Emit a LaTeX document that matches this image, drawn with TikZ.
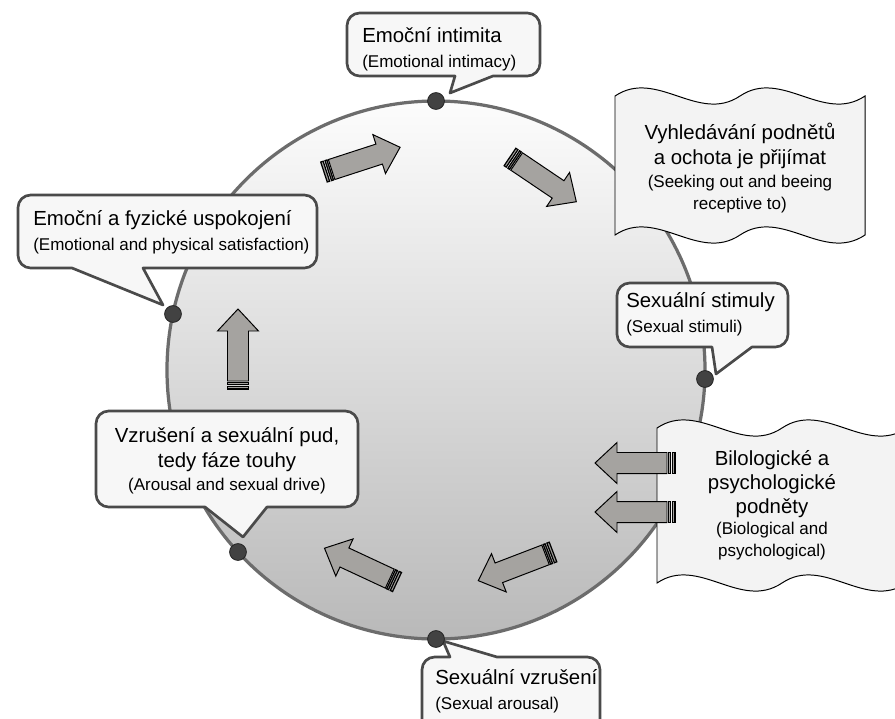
\documentclass[tikz,border=0pt]{standalone}
\usepackage{fontspec}
\setmainfont{Liberation Sans}

\definecolor{rimgray}{HTML}{6C6C6C}
\definecolor{boxgray}{HTML}{4A4A4A}
\definecolor{boxfill}{HTML}{F7F7F7}
\definecolor{wavefill}{HTML}{F3F3F3}
\definecolor{arrowfill}{HTML}{A5A3A0}
\definecolor{dotfill}{HTML}{424242}

\newcommand{\czline}{\fontsize{14.5}{17.7}\selectfont}
\newcommand{\enline}{\fontsize{12.1}{15.4}\selectfont}

% striped block arrow: #1 tail point, #2 direction
\newcommand{\stripedarrow}[2]{%
  \begin{scope}[shift={#1}, rotate=#2]
    \filldraw[arrowbody] (8,-10.5) -- (58,-10.5) -- (58,-20.5) -- (80,0)
      -- (58,20.5) -- (58,10.5) -- (8,10.5) -- cycle;
    \filldraw[arrowbody, line width=0.9pt] (0,-10.5) rectangle (2.5,10.5);
    \filldraw[arrowbody, line width=0.9pt] (4.5,-10.5) rectangle (6.5,10.5);
  \end{scope}}

\tikzset{
  disc/.style={draw=rimgray, line width=2.3pt, top color=white!98!gray,
    middle color=white!88!gray!90!magenta, bottom color=gray!55},
  callout/.style={draw=boxgray, fill=boxfill, line width=1.9pt, line join=round},
  wavebox/.style={draw=black, fill=wavefill, line width=0.7pt},
  arrowbody/.style={draw=black, fill=arrowfill, line width=0.7pt, line join=miter},
  dot/.style={circle, draw=black!85, fill=dotfill, line width=0.6pt,
    minimum size=0.42cm, inner sep=0pt},
  txt/.style={inner sep=0pt, font=\czline},
}

\begin{document}
\begin{tikzpicture}[x=0.025cm, y=-0.025cm]
  \clip (0,0) rectangle (895,718);

  % cycle
  \draw[disc] (436,370) circle [radius=269];

  % callouts
  \draw[callout] (440,13) [rounded corners=9] -- (540,13) -- (540,76)
    [sharp corners] -- (493,76) -- (450,93) -- (455,76)
    [rounded corners=9] -- (347,76) -- (347,13) -- cycle;
  \draw[callout] (160,195) [rounded corners=9] -- (317,195) -- (317,268)
    [sharp corners] -- (143,268) -- (163,305) -- (72,268)
    [rounded corners=9] -- (18,268) -- (18,195) -- cycle;
  \draw[callout] (700,283) [rounded corners=9] -- (788,283) -- (788,347)
    [sharp corners] -- (752,347) -- (716,374) -- (712,347)
    [rounded corners=9] -- (617,347) -- (617,283) -- cycle;
  \draw[callout] (230,411) [rounded corners=9] -- (358,411) -- (358,507)
    [sharp corners] -- (267,507) -- (243,537) -- (205,507)
    [rounded corners=9] -- (96,507) -- (96,411) -- cycle;
  \draw[callout] (600,700) [rounded corners=9] -- (600,740) -- (422,740)
    -- (422,657) [sharp corners] -- (450,657) -- (443,641) -- (497,657)
    [rounded corners=9] -- (600,657) -- cycle;

  % wave boxes
  \draw[wavebox] (615,96) .. controls (656.7,68) and (698.3,124) .. (740,96)
    .. controls (781.7,68) and (823.3,124) .. (865,96) -- (865,235)
    .. controls (823.3,263) and (781.7,207) .. (740,235)
    .. controls (698.3,263) and (656.7,207) .. (615,235) -- cycle;
  \draw[wavebox] (657,428) .. controls (698.7,400) and (740.3,456) .. (782,428)
    .. controls (823.7,400) and (865.3,456) .. (907,428) -- (907,583)
    .. controls (865.3,611) and (823.7,555) .. (782,583)
    .. controls (740.3,611) and (698.7,555) .. (657,583) -- cycle;

  % arrows round the cycle
  \stripedarrow{(324,172)}{18}
  \stripedarrow{(510,157)}{-34}
  \stripedarrow{(553,552)}{201}
  \stripedarrow{(397,582)}{155}
  \stripedarrow{(238,389)}{90}
  \stripedarrow{(675,463)}{180}
  \stripedarrow{(675,512)}{180}

  % points on the rim
  \node[dot] (ptop) at (436,101) {};
  \node[dot] (pright) at (705,379) {};
  \node[dot] (pbottom) at (436,639) {};
  \node[dot] (plowleft) at (238,552) {};
  \node[dot] (pleft) at (173,314) {};

  % texts
  \node[txt, anchor=west, align=left] (intimacy) at (362,49)
    {Emoční intimita\\{\enline (Emotional intimacy)}};
  \node[txt, align=center] (seeking) at (740,168)
    {Vyhledávání podnětů\\a ochota je přijímat\\[-1pt]{\enline (Seeking out and beeing}\\[-2.5pt]{\enline receptive to)}};
  \node[txt, anchor=west, align=left] (satisfaction) at (33,232)
    {Emoční a fyzické uspokojení\\{\enline (Emotional and physical satisfaction)}};
  \node[txt, anchor=west, align=left] (stimuli) at (626,314)
    {Sexuální stimuly\\{\enline (Sexual stimuli)}};
  \node[txt, align=center] (drive) at (227,461)
    {Vzrušení a sexuální pud,\\tedy fáze touhy\\[-1pt]{\enline (Arousal and sexual drive)}};
  \node[txt, align=center] (triggers) at (772,505)
    {Bilologické a\\[-0.5pt]psychologické\\[-0.5pt]podněty\\[-3pt]{\enline (Biological and}\\[-2pt]{\enline psychological)}};
  \node[txt, anchor=west, align=left] (arousal) at (435,691)
    {Sexuální vzrušení\\{\enline (Sexual arousal)}};
\end{tikzpicture}
\end{document}
